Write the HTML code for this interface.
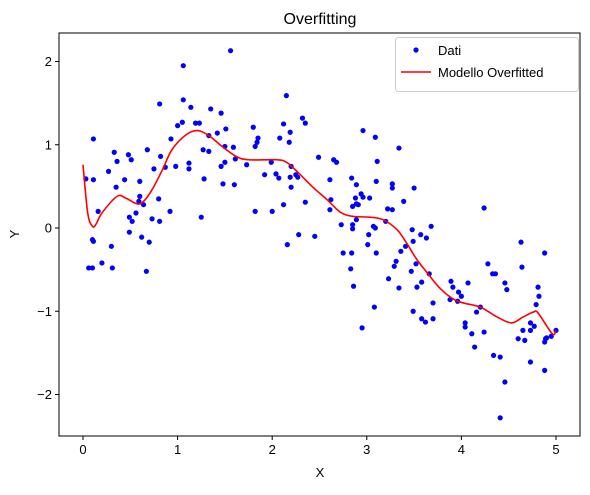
<!DOCTYPE html>
<html><head><meta charset="utf-8"><style>
body{margin:0;background:#fff}
svg text{font-family:"Liberation Sans",sans-serif;fill:#000}
</style></head><body>
<svg id="c" width="590" height="490" xmlns="http://www.w3.org/2000/svg"></svg>
<script>
const xTicks=[0,1,2,3,4,5];
const yTicks=[-2,-1,0,1,2];
const dataX=[.03,.11,.11,.16,.10,.11,.30,.27,.33,.36,.35,.44,.48,.51,.49,.52,.49,.56,.60,.60,.59,.64,.62,.70,.68,.73,.75,.80,.81,.81,.82,.87,.92,.93,.98,1.00,1.05,1.06,1.06,1.12,1.12,1.14,1.19,1.23,1.25,1.28,1.27,1.33,1.33,1.35,1.42,1.46,1.51,1.46,1.50,1.50,1.48,1.56,1.61,1.60,1.59,1.73,1.80,1.82,1.84,1.85,1.82,1.92,1.99,2.00,2.04,2.07,2.08,2.12,2.15,2.12,2.19,2.18,2.20,2.19,2.20,2.25,2.27,2.32,2.35,2.35,2.16,2.28,2.45,2.49,2.96,3.09,3.34,2.65,2.68,3.11,2.61,2.84,2.89,3.10,3.27,3.27,3.50,2.62,2.61,2.88,2.94,2.96,3.03,2.85,2.91,2.89,3.39,3.22,3.27,2.89,3.20,2.73,2.85,2.85,3.07,3.09,3.02,3.48,3.68,3.57,3.63,3.49,3.01,3.41,2.75,2.84,3.10,3.36,3.31,3.29,3.52,3.47,3.66,2.83,3.23,2.86,3.34,3.53,3.58,3.08,3.49,2.95,3.58,3.62,3.70,3.70,3.89,3.91,3.97,4.00,4.07,3.88,3.96,4.24,4.28,4.33,4.36,4.46,4.48,4.63,4.64,4.88,4.81,4.82,4.79,4.20,4.16,4.04,4.04,4.11,4.24,4.14,4.34,4.41,4.46,4.41,4.73,4.77,4.73,4.65,4.60,4.67,4.73,4.88,4.88,4.89,4.90,4.95,5.00,.06,.10,.20,.31,.67];
const dataY=[.59,.58,1.07,.20,-.14,-.16,-.22,.68,.91,.80,.49,.58,.88,.82,.13,.08,-.05,.18,.38,.56,.32,.28,-.11,-.17,.94,.11,.71,.35,.08,1.49,.86,.73,.20,1.07,.74,1.23,1.27,1.54,1.95,.78,.71,1.45,1.26,1.26,.13,.59,.94,.92,1.11,1.43,1.14,1.38,1.19,.74,.79,.98,.53,2.13,.83,.52,.97,.76,1.21,.98,1.03,1.08,.20,.64,.79,.20,.65,.60,1.08,1.25,1.59,.28,1.15,1.03,.74,.61,.49,.64,.61,1.32,1.26,.31,-.20,-.08,-.10,.85,1.17,1.09,.96,.82,.79,.80,.58,.60,.52,.56,.53,.48,.48,.34,.22,.36,.41,.37,.36,.26,.28,.29,.32,.23,.22,.10,.08,.04,.04,-.01,.02,.00,-.08,-.02,.02,-.08,-.12,-.16,-.20,-.22,-.30,-.30,-.30,-.28,-.40,-.46,-.43,-.52,-.55,-.49,-.61,-.70,-.72,-.71,-.65,-.95,-1.00,-1.20,-1.09,-1.13,-1.09,-.90,-.64,-.71,-.77,-.82,-.66,-.86,-.88,.24,-.43,-.55,-.55,-.66,-.74,-.17,-.47,-.30,-.71,-.82,-.92,-.95,-1.01,-1.14,-1.19,-1.27,-1.25,-1.43,-1.53,-1.55,-1.85,-2.28,-1.14,-1.18,-1.23,-1.23,-1.33,-1.35,-1.61,-1.71,-1.37,-1.33,-1.32,-1.30,-1.23,-.48,-.48,-.42,-.48,-.52];
const fitX=[0,.05,.10,.14,.20,.36,.45,.57,.64,.73,.84,.94,1.09,1.21,1.33,1.47,1.62,1.75,2.04,2.15,2.28,2.43,2.58,2.72,2.85,3.03,3.17,3.32,3.42,3.53,3.64,3.77,3.91,4.02,4.20,4.38,4.53,4.65,4.76,4.81,4.96,5.0];
const fitY=[.76,.18,.02,.05,.18,.38,.36,.29,.32,.46,.70,.94,1.12,1.17,1.11,.98,.86,.82,.82,.79,.66,.49,.34,.19,.14,.13,.10,-.02,-.18,-.38,-.54,-.72,-.85,-.90,-.95,-1.07,-1.14,-1.07,-1.01,-1.02,-1.27,-1.23];

const NS='http://www.w3.org/2000/svg';
const svg=document.getElementById('c');
const L=59,R=580,T=33,B=436;
const sx=v=>83+94.6*v, sy=v=>228-83.25*v;
function mk(t,a,p){const e=document.createElementNS(NS,t);for(const k in a)e.setAttribute(k,a[k]);(p||svg).appendChild(e);return e;}

const title=mk('text',{x:320,y:24,'text-anchor':'middle','font-size':'16'});title.textContent='Overfitting';



const pts=mk('g',{});


for(let i=0;i<dataX.length;i++){
  const c=mk('circle',{cx:sx(dataX[i]),cy:sy(dataY[i]),r:2.6,fill:'#0000ff'},pts);
  
  
}
// smooth Catmull-Rom path through fit points
const P=fitX.map((x,i)=>[sx(x),sy(fitY[i])]);
let d='M'+P[0][0]+','+P[0][1];
for(let i=0;i<P.length-1;i++){
  const p0=P[Math.max(0,i-1)],p1=P[i],p2=P[i+1],p3=P[Math.min(P.length-1,i+2)];
  const c1=[p1[0]+(p2[0]-p0[0])/6,p1[1]+(p2[1]-p0[1])/6];
  const c2=[p2[0]-(p3[0]-p1[0])/6,p2[1]-(p3[1]-p1[1])/6];
  d+=' C'+c1[0]+','+c1[1]+' '+c2[0]+','+c2[1]+' '+p2[0]+','+p2[1];
}
const line=mk('path',{d:d,fill:'none',stroke:'#ff0000','stroke-width':1.6,'stroke-linejoin':'round'});



const frame=mk('rect',{x:L,y:T,width:R-L,height:B-T,fill:'none',stroke:'#000','stroke-width':1});



xTicks.forEach(v=>{
  const x=sx(v);
  const tk=mk('line',{x1:x,x2:x,y1:B,y2:B+4,stroke:'#000'});
  
  
  const t=mk('text',{x:x,y:B+18,'text-anchor':'middle','font-size':'13'});t.textContent=v;
  
  
});
yTicks.forEach(v=>{
  const y=sy(v);
  const tk=mk('line',{x1:L-4,x2:L,y1:y,y2:y,stroke:'#000'});
  
  
  const t=mk('text',{x:L-7,y:y+4.5,'text-anchor':'end','font-size':'13'});t.textContent=v<0?'\u2212'+(-v):v;
  
  
});
const xl=mk('text',{x:320,y:477,'text-anchor':'middle','font-size':'13'});xl.textContent='X';


const yl=mk('text',{x:19,y:234,'text-anchor':'middle','font-size':'13',transform:'rotate(-90 19 234)'});yl.textContent='Y';



const lg=mk('g',{});


mk('rect',{x:395.5,y:37.5,width:183,height:54,rx:3,fill:'#fff','fill-opacity':0.8,stroke:'#ccc'},lg);
const ld=mk('circle',{cx:416,cy:50,r:2.6,fill:'#0000ff'},lg);


const lt1=mk('text',{x:438,y:55,'font-size':'13'},lg);lt1.textContent='Dati';


const ll=mk('line',{x1:401,x2:431,y1:72,y2:72,stroke:'#ff0000','stroke-width':1.6},lg);


const lt2=mk('text',{x:438,y:77,'font-size':'13'},lg);lt2.textContent='Modello Overfitted';


</script>
</body></html>
